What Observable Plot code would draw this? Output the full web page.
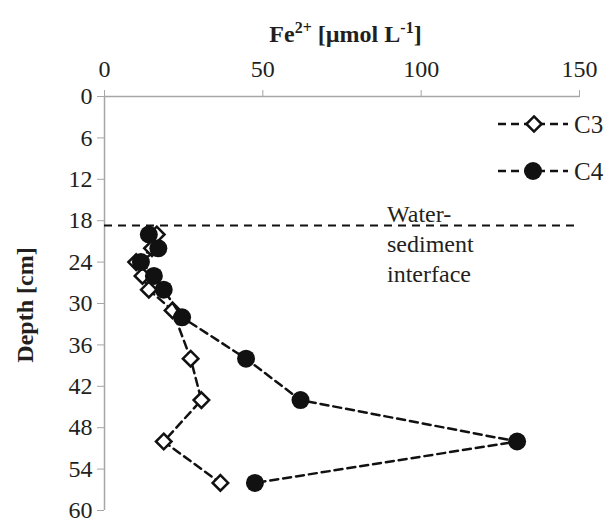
<!DOCTYPE html>
<html>
<head>
<meta charset="utf-8">
<script src="https://cdn.jsdelivr.net/npm/d3@7"></script>
<script src="https://cdn.jsdelivr.net/npm/@observablehq/plot@0.6"></script>
</head>
<body style="margin:0;background:#fff">
<div id="chart"></div>
<script>
// Depth (cm) and Fe2+ (umol/L) for each core
const c3Depth = [20, 22, 24, 26, 28, 31, 38, 44, 50, 56];
const c3Fe    = [16.5, 15, 10, 12, 14, 21.5, 27.2, 30.6, 18.7, 36.6];
const c4Depth = [20, 22, 24, 26, 28, 32, 38, 44, 50, 56];
const c4Fe    = [14, 17, 11.5, 15.6, 18.7, 24.5, 44.7, 61.9, 130.3, 47.5];
const xTicks = [0, 50, 100, 150];
const yTicks = [0, 6, 12, 18, 24, 30, 36, 42, 48, 54, 60];
const interfaceDepth = 18.7;
const seriesNames = ["C3", "C4"];
const interfaceLabel = ["Water-", "sediment", "interface"];

const c3 = c3Depth.map((d, i) => ({depth: d, fe: c3Fe[i]}));
const c4 = c4Depth.map((d, i) => ({depth: d, fe: c4Fe[i]}));

const FONT = "Liberation Serif";
const TXT = "#231f20";
const AXIS = "#a6a6a6";

const chart = Plot.plot({
  width: 606,
  height: 520,
  marginLeft: 104,
  marginRight: 27,
  marginTop: 96,
  marginBottom: 10,
  x: {domain: [0, 150]},
  y: {domain: [0, 60], reverse: true},
  marks: [
    Plot.axisX(xTicks, {anchor: "top", tickSize: 7, tickPadding: 13, fontSize: 24, fontFamily: FONT, stroke: AXIS, color: TXT, label: null}),
    Plot.axisY(yTicks, {anchor: "left", tickSize: 7, tickPadding: 5, fontSize: 24, fontFamily: FONT, stroke: AXIS, color: TXT, label: null}),
    Plot.ruleX([0], {stroke: AXIS, strokeWidth: 1.5}),
    Plot.ruleY([0], {stroke: AXIS, strokeWidth: 1.5}),
    Plot.ruleY([interfaceDepth], {stroke: "#111", strokeWidth: 2, strokeDasharray: "8,6"}),
    Plot.line(c3, {x: "fe", y: "depth", stroke: "#111", strokeWidth: 2.5, strokeDasharray: "8,5"}),
    Plot.dot(c3, {x: "fe", y: "depth", symbol: "diamond2", r: 7, fill: "#fff", stroke: "#111", strokeWidth: 2.5}),
    Plot.line(c4, {x: "fe", y: "depth", stroke: "#111", strokeWidth: 2.5, strokeDasharray: "8,5"}),
    Plot.dot(c4, {x: "fe", y: "depth", symbol: "circle", r: 9, fill: "#111", stroke: "none"})
  ]
});

const svg = d3.select(chart);
svg.attr("font-family", FONT);
const xs = chart.scale("x"), ys = chart.scale("y");
const x0 = xs.apply(0), x1 = xs.apply(150);
const yTop = ys.apply(0), yBot = ys.apply(60);

// Title with superscripts
const title = svg.append("text")
  .attr("x", (x0 + x1) / 2 + 4).attr("y", 42)
  .attr("text-anchor", "middle")
  .attr("font-family", FONT)
  .attr("font-size", 24).attr("font-weight", "bold").attr("fill", TXT);
title.append("tspan").text("Fe");
title.append("tspan").attr("dy", -9).attr("font-size", 16).text("2+");
title.append("tspan").attr("dy", 9).text(" [\u00B5mol L");
title.append("tspan").attr("dy", -9).attr("font-size", 16).text("-1");
title.append("tspan").attr("dy", 9).text("]");

// Y axis label
svg.append("text")
  .attr("transform", `translate(33,${(yTop + yBot) / 2 + 2}) rotate(-90)`)
  .attr("text-anchor", "middle")
  .attr("font-family", FONT)
  .attr("font-size", 24).attr("font-weight", "bold").attr("fill", TXT)
  .text("Depth [cm]");

// Interface label
const il = svg.append("text")
  .attr("text-anchor", "start")
  .attr("font-family", FONT)
  .attr("font-size", 24).attr("fill", TXT);
interfaceLabel.forEach((t, i) => {
  il.append("tspan").attr("x", 387).attr("y", 222 + i * 30).text(t);
});

// Legend
const legRows = [124, 171];
seriesNames.forEach((name, i) => {
  const y = legRows[i];
  const g = svg.append("g");
  g.append("line").attr("x1", 498).attr("x2", 568).attr("y1", y).attr("y2", y)
    .attr("stroke", "#111").attr("stroke-width", 2.5).attr("stroke-dasharray", "8,5");
  if (i === 0) {
    const h = 7.6;
    g.append("path").attr("d", `M534,${y - h}L${534 + h},${y}L534,${y + h}L${534 - h},${y}Z`)
      .attr("fill", "#fff").attr("stroke", "#111").attr("stroke-width", 2.5);
  } else {
    g.append("circle").attr("cx", 533).attr("cy", y).attr("r", 9).attr("fill", "#111");
  }
  g.append("text").attr("x", 574).attr("y", y + 9)
    .attr("text-anchor", "start")
    .attr("font-family", FONT)
    .attr("font-size", 25).attr("fill", TXT).text(name);
});

document.getElementById("chart").appendChild(chart);
</script>
</body>
</html>
